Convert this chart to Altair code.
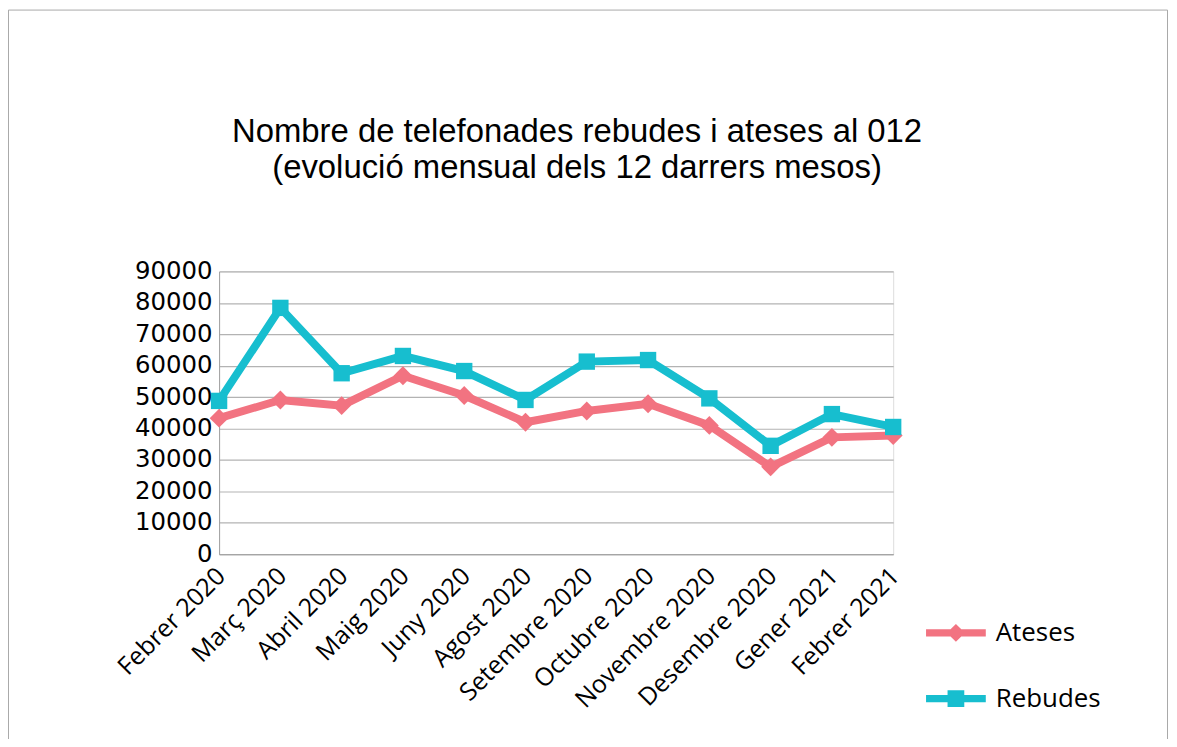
import altair as alt
import pandas as pd

months = ["Febrer 2020", "Març 2020", "Abril 2020", "Maig 2020", "Juny 2020",
          "Agost 2020", "Setembre 2020", "Octubre 2020", "Novembre 2020",
          "Desembre 2020", "Gener 2021", "Febrer 2021"]
ateses = [43300, 49100, 47300, 56800, 50500, 42000, 45600, 47900, 41000, 27800, 37200, 37800]
rebudes = [48800, 78400, 57600, 63100, 58300, 49100, 61300, 61800, 49600, 34500, 44600, 40500]
series = ["Ateses", "Rebudes"]
colors = ["#F27381", "#17BECF"]
y_ticks = [0, 10000, 20000, 30000, 40000, 50000, 60000, 70000, 80000, 90000]

rows = []
for m, a, r in zip(months, ateses, rebudes):
    rows.append({"mes": m, "serie": "Ateses", "valor": a})
    rows.append({"mes": m, "serie": "Rebudes", "valor": r})
df = pd.DataFrame(rows)

legend_paths = [
    "M-1,-0.12H-0.18L0,-0.3L0.18,-0.12H1V0.12H0.18L0,0.3L-0.18,0.12H-1Z",
    "M-1,-0.12H-0.28V-0.28H0.28V-0.12H1V0.12H0.28V0.28H-0.28V0.12H-1Z",
]

x_enc = alt.X("mes:N", sort=months, scale=alt.Scale(type="point", padding=0),
              axis=alt.Axis(title=None, labelAngle=-45, labelAlign="right",
                            labelBaseline="top", labelFont="Open Sans", labelFontSize=25,
                            labelColor="#000000", labelPadding=9, labelOffset=-7, ticks=False,
                            labelLimit=400, domainColor="#a0a0a0", domainWidth=1, grid=False,
                            labelOverlap=False))
y_enc = alt.Y("valor:Q", scale=alt.Scale(domain=[0, 90000], nice=False),
              axis=alt.Axis(title=None, values=y_ticks, format="d", labelFont="DejaVu Sans",
                            labelFontSize=24.5, labelColor="#000000", labelPadding=7, ticks=False,
                            domainColor="#a0a0a0", domainWidth=1, gridColor="#b3b3b3",
                            gridWidth=1.2))

base = alt.Chart(df)

def line_layer(name, color):
    return base.transform_filter(alt.datum.serie == name).mark_line(
        strokeWidth=8, color=color).encode(x=x_enc, y=y_enc)

def point_layer(name, color, shape, size):
    return base.transform_filter(alt.datum.serie == name).mark_point(
        shape=shape, filled=True, opacity=1, size=size, strokeWidth=0, color=color).encode(
        x=x_enc, y=y_enc)

leg = alt.Legend(title=None, orient="none", legendX=710, legendY=333,
                 symbolSize=3600, symbolStrokeWidth=0, labelFont="Open Sans",
                 labelFontSize=26, labelColor="#000000", labelOffset=10,
                 rowPadding=23, padding=0)

legend_layer = base.transform_filter("false").mark_point(
    filled=True, opacity=1, strokeWidth=0).encode(
    x=x_enc, y=y_enc,
    color=alt.Color("serie:N", scale=alt.Scale(domain=series, range=colors), legend=leg),
    shape=alt.Shape("serie:N", scale=alt.Scale(domain=series, range=legend_paths), legend=leg),
)

frame = alt.Chart(alt.Data(values=[{"a": 1}])).mark_rect(
    fill="transparent", stroke="#a8a8a8", strokeWidth=1).encode(
    x=alt.value(-211.5), x2=alt.value(952.5), y=alt.value(-262.5), y2=alt.value(600))

chart = alt.layer(
    frame,
    line_layer("Ateses", colors[0]), point_layer("Ateses", colors[0], "diamond", 360),
    line_layer("Rebudes", colors[1]), point_layer("Rebudes", colors[1], "square", 270),
    legend_layer,
).properties(
    width=677, height=284,
    autosize=alt.AutoSizeParams(type="none"),
    padding={"left": 212, "top": 263, "right": 277, "bottom": 184},
    title=alt.TitleParams(
        text=["Nombre de telefonades rebudes i ateses al 012",
              "(evolució mensual dels 12 darrers mesos)"],
        font="Liberation Sans", fontSize=33, fontWeight="normal", color="#000000",
        anchor="middle", dx=21, offset=-176, lineHeight=36),
).configure_view(stroke="transparent").configure(background="#ffffff")

chart.save("out.html", embed_options={"renderer": "svg", "actions": False})
